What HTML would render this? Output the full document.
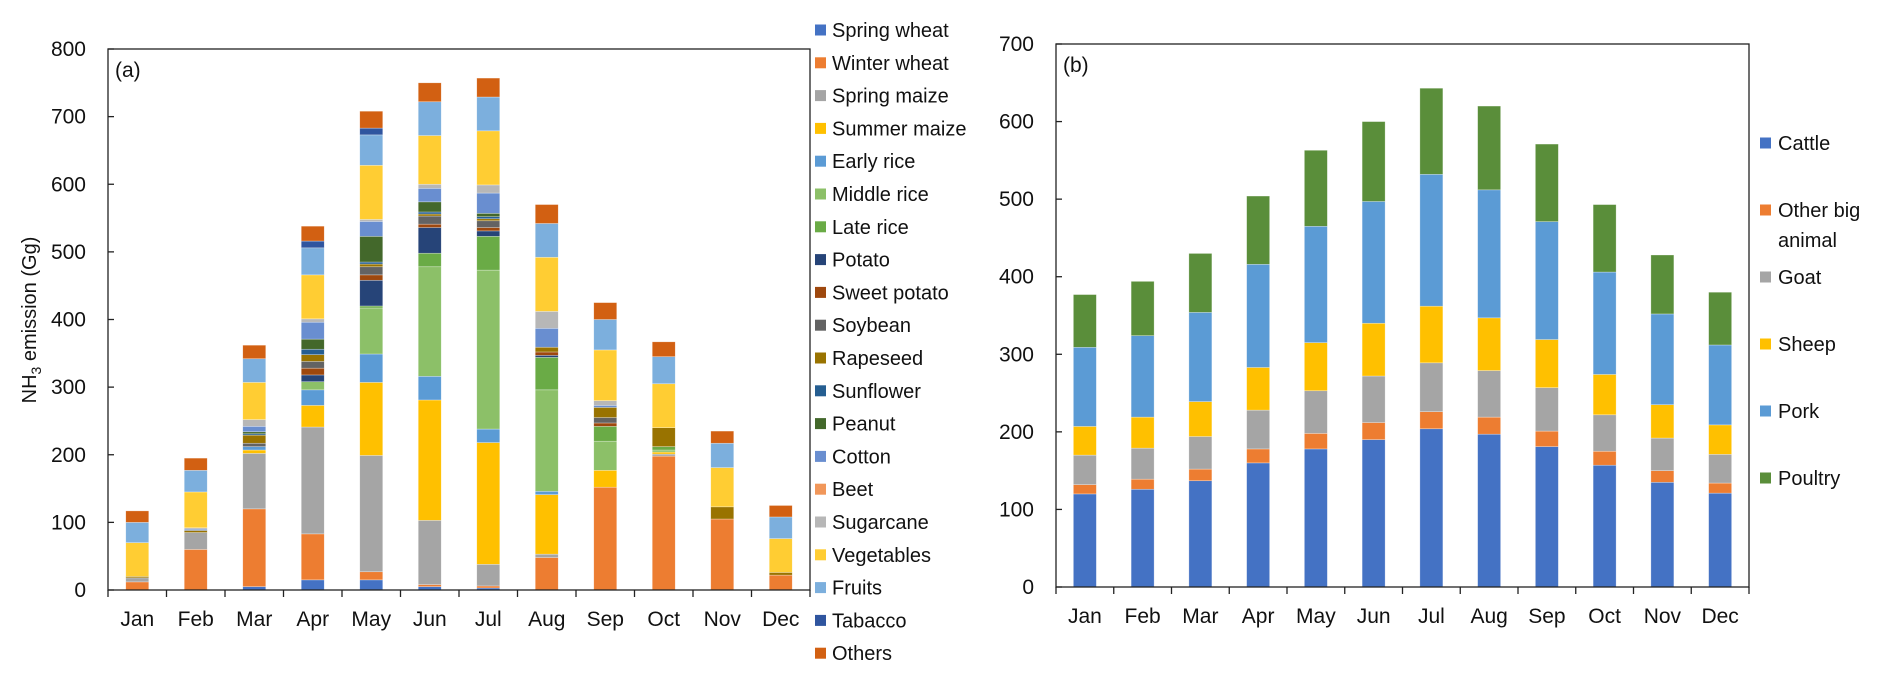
<!DOCTYPE html>
<html><head><meta charset="utf-8"><style>
body{margin:0;background:#fff;}
svg{display:block;font-family:"Liberation Sans",Arial,sans-serif;}
</style></head><body>
<svg id="c" width="1892" height="681" viewBox="0 0 1892 681"></svg>
<script>
const months=["Jan","Feb","Mar","Apr","May","Jun","Jul","Aug","Sep","Oct","Nov","Dec"];
const cropNames=["Spring wheat","Winter wheat","Spring maize","Summer maize","Early rice","Middle rice","Late rice","Potato","Sweet potato","Soybean","Rapeseed","Sunflower","Peanut","Cotton","Beet","Sugarcane","Vegetables","Fruits","Tabacco","Others"];
const springWheat=[0,0,5,15,15,5,3,0,0,0,0,0];
const winterWheat=[12,60,115,68,12,3,3,48,152,198,105,22];
const springMaize=[6,25,82,158,172,95,32,5,0,3,0,0];
const summerMaize=[0,0,5,32,108,178,180,88,25,3,0,0];
const earlyRice=[0,0,5,23,42,35,20,5,0,0,0,0];
const middleRice=[0,0,0,12,68,162,235,150,43,3,0,0];
const lateRice=[0,0,0,0,3,20,50,48,22,5,0,0];
const potato=[0,0,0,10,38,38,8,3,0,0,0,0];
const sweetPotato=[0,0,0,10,8,5,5,5,5,0,0,0];
const soybean=[0,0,5,10,12,12,10,0,8,0,0,0];
const rapeseed=[2,3,12,10,4,3,3,7,15,28,18,4];
const sunflower=[0,0,2,8,3,3,3,0,0,0,0,0];
const peanut=[0,0,3,15,38,15,5,0,0,0,0,0];
const cotton=[0,2,8,25,22,20,30,28,3,0,0,0];
const beet=[0,0,0,0,0,0,0,0,0,0,0,0];
const sugarcane=[0,2,10,5,3,6,12,25,7,0,0,0];
const vegetables=[50,53,55,65,80,72,80,80,75,65,58,50];
const fruits=[30,32,35,40,45,50,50,50,45,40,36,32];
const tabacco=[0,0,0,10,10,0,0,0,0,0,0,0];
const others=[17,18,20,22,25,28,28,28,25,22,18,17];
const cropSeries=[springWheat,winterWheat,springMaize,summerMaize,earlyRice,middleRice,lateRice,potato,sweetPotato,soybean,rapeseed,sunflower,peanut,cotton,beet,sugarcane,vegetables,fruits,tabacco,others];
const cropColors=["#4472C4","#ED7D31","#A5A5A5","#FFC000","#5B9BD5","#8CC068","#6AAB46","#264478","#9E480E","#636363","#997300","#255E91","#43682B","#698ED0","#F1975A","#B7B7B7","#FFCD33","#7CAFDD","#2F559F","#D26012"];
const cropTicks=[0,100,200,300,400,500,600,700,800];

const animalNames=["Cattle","Other big animal","Goat","Sheep","Pork","Poultry"];
const cattle=[120,126,137,160,178,190,204,197,181,157,135,121];
const otherBig=[12,13,15,18,20,22,22,22,20,18,15,13];
const goat=[38,40,42,50,55,60,63,60,56,47,42,37];
const sheep=[37,40,45,55,62,68,73,68,62,52,43,38];
const pork=[102,105,115,133,150,157,170,165,152,132,117,103];
const poultry=[68,70,76,88,98,103,111,108,100,87,76,68];
const animalSeries=[cattle,otherBig,goat,sheep,pork,poultry];
const animalColors=["#4472C4","#ED7D31","#A5A5A5","#FFC000","#5B9BD5","#5A8E3A"];
const animalTicks=[0,100,200,300,400,500,600,700];

const svg=document.getElementById('c');
const NS="http://www.w3.org/2000/svg";
function mk(tag,attrs,parent){const e=document.createElementNS(NS,tag);for(const k in attrs)e.setAttribute(k,attrs[k]);(parent||svg).appendChild(e);return e;}

function panel(p){
  const g=mk('g',{});
  
  
  const y=v=>p.y0-(v/p.max)*(p.y0-p.top);
  const bw=(p.right-p.left)/months.length;
  const xc=i=>p.left+bw*(i+0.5);
  // bars
  for(let i=0;i<months.length;i++){
    let acc=0;
    p.series.forEach((s,k)=>{
      const v=s[i]; if(v<=0) return;
      const r=mk('rect',{x:xc(i)-11.5,y:y(acc+v),width:23,height:y(acc)-y(acc+v),fill:p.colors[k],stroke:'#fff','stroke-opacity':0.5,'stroke-width':0.6},g);
      
      
      acc+=v;
    });
  }
  // frame
  const fr=mk('rect',{x:p.left,y:p.top,width:p.right-p.left,height:p.y0-p.top,fill:'none',stroke:'#222','stroke-width':1.3},g);
  
  
  // y ticks
  p.ticks.forEach(t=>{
    mk('line',{x1:p.left,x2:p.left+6,y1:y(t),y2:y(t),stroke:'#222','stroke-width':1.3},g);
    const tx=mk('text',{x:p.tickX,y:y(t)+7,'text-anchor':'end','font-size':21,fill:'#111'},g);
    tx.textContent=t;
    
    
  });
  // x ticks and labels
  for(let i=0;i<=months.length;i++){
    const x=p.left+bw*i;
    mk('line',{x1:x,x2:x,y1:p.y0,y2:p.y0+7,stroke:'#222','stroke-width':1.3},g);
  }
  months.forEach((m,i)=>{
    const tx=mk('text',{x:xc(i),y:p.y0+36,'text-anchor':'middle','font-size':21,fill:'#111'},g);
    tx.textContent=m;
    
    
  });
  const lab=mk('text',{x:p.left+7,y:p.top+28,'font-size':21,fill:'#111'},g);
  lab.textContent=p.label;
  
  
}

panel({name:'crop-chart',left:108,right:810,top:49,y0:590,max:800,ticks:cropTicks,series:cropSeries,colors:cropColors,names:cropNames,tickX:86,label:'(a)'});
panel({name:'livestock-chart',left:1056,right:1749,top:44,y0:587,max:700,ticks:animalTicks,series:animalSeries,colors:animalColors,names:animalNames,tickX:1034,label:'(b)'});

// y axis title
const yt=mk('text',{transform:'translate(36,320) rotate(-90)','text-anchor':'middle','font-size':20,fill:'#111'});
yt.innerHTML='NH<tspan font-size="14" dy="5">3</tspan><tspan dy="-5"> emission (Gg)</tspan>';



// legend a
cropNames.forEach((n,k)=>{
  const cy=30+k*32.8;
  const sq=mk('rect',{x:815,y:cy-5.5,width:11,height:11,fill:cropColors[k]});
  
  
  const t=mk('text',{x:832,y:cy+7,'font-size':20,fill:'#111'});
  t.textContent=n;
  
  
});
// legend b
const lb=[[143],[210,240],[277],[344],[411],[478]];
animalNames.forEach((n,k)=>{
  const cy=lb[k][0];
  const sq=mk('rect',{x:1760,y:cy-5.5,width:11,height:11,fill:animalColors[k]});
  
  
  const t=mk('text',{x:1778,y:cy+7,'font-size':20,fill:'#111'});
  if(k===1){t.innerHTML='<tspan x="1778">Other big</tspan><tspan x="1778" dy="30">animal</tspan>';}
  else t.textContent=n;
  
  
});
</script>
</body></html>
